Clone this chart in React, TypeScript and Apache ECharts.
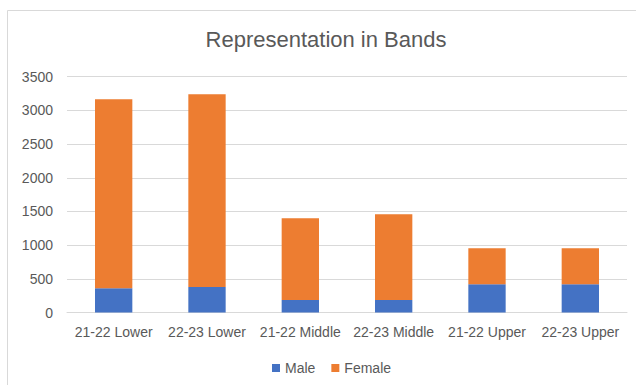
import React, { useEffect, useRef } from "react";
import * as echarts from "echarts";

const categories = [
  "21-22 Lower",
  "22-23 Lower",
  "21-22 Middle",
  "22-23 Middle",
  "21-22 Upper",
  "22-23 Upper",
];
const male = [360, 380, 185, 185, 420, 420];
const female = [2805, 2860, 1215, 1275, 535, 535];
const titleText = "Representation in Bands";

const FONT = "'Liberation Sans', Arial, sans-serif";
const TEXT = "#595959";
const GRID = "#d9d9d9";

export default function App() {
  const ref = useRef<HTMLDivElement>(null);
  useEffect(() => {
    if (!ref.current) return;
    const chart = echarts.init(ref.current, null, { renderer: "svg" });
    chart.setOption({
      animation: false,
      backgroundColor: "#ffffff",
      textStyle: { fontFamily: FONT },
      graphic: [
        {
          type: "rect",
          shape: { x: 7.5, y: 10.5, width: 700, height: 500 },
          style: { fill: "none", stroke: GRID, lineWidth: 1 },
          silent: true,
          z: -10,
        },
        {
          type: "text",
          x: 326,
          y: 28,
          style: {
            text: titleText,
            fontFamily: FONT,
            fontSize: 22,
            fill: TEXT,
            textAlign: "center",
            textVerticalAlign: "top",
          },
        },
      ],
      legend: {
        left: 272,
        top: 361,
        padding: [0, 0, 0, 0],
        icon: "rect",
        itemWidth: 8,
        itemHeight: 8,
        itemGap: 16,
        textStyle: { fontFamily: FONT, fontSize: 14, color: TEXT },
        data: ["Male", "Female"],
      },
      grid: { left: 67, right: 9, top: 76.7, bottom: 72.5, containLabel: false },
      xAxis: {
        type: "category",
        data: categories,
        axisLine: { lineStyle: { color: GRID, width: 1 } },
        axisTick: { show: false },
        axisLabel: {
          color: TEXT,
          fontFamily: FONT,
          fontSize: 14,
          margin: 12,
          interval: 0,
        },
      },
      yAxis: {
        type: "value",
        min: 0,
        max: 3500,
        interval: 500,
        axisLine: { show: false },
        axisTick: { show: false },
        splitLine: { lineStyle: { color: GRID, width: 1 } },
        axisLabel: {
          color: TEXT,
          fontFamily: FONT,
          fontSize: 14,
          margin: 14,
          formatter: (v: number) => String(v),
        },
      },
      series: [
        {
          name: "Male",
          type: "bar",
          stack: "total",
          data: male,
          barWidth: "40%",
          itemStyle: { color: "#4472C4" },
        },
        {
          name: "Female",
          type: "bar",
          stack: "total",
          data: female,
          barWidth: "40%",
          itemStyle: { color: "#ED7D31" },
        },
      ],
    });
    return () => chart.dispose();
  }, []);
  return (
    <div
      ref={ref}
      style={{ position: "fixed", left: 0, top: 0, width: 636, height: 385 }}
    />
  );
}
